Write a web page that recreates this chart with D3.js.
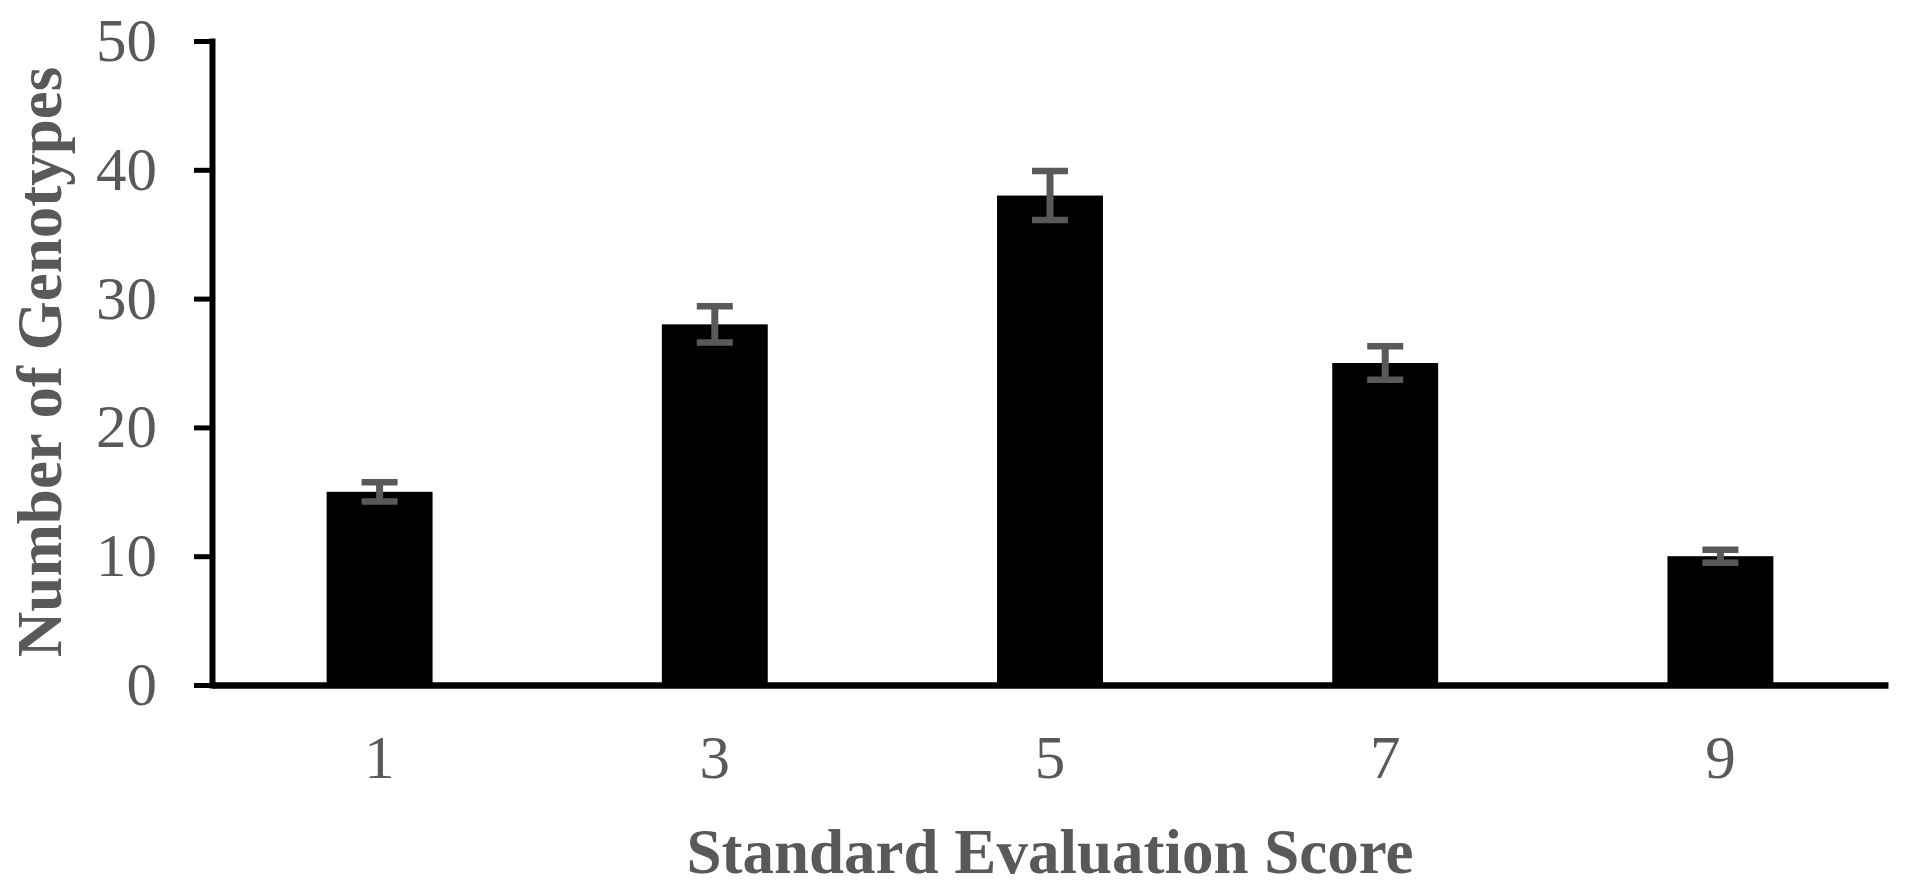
<!DOCTYPE html>
<html>
<head>
<meta charset="utf-8">
<script src="https://cdn.jsdelivr.net/npm/d3@7"></script>
<style>
  html, body { margin: 0; padding: 0; background: #fff; }
  svg { display: block; }
  text { font-family: "Liberation Serif", "Times New Roman", serif; }
</style>
</head>
<body>
<svg id="chart" width="1908" height="890"></svg>
<script>
const categories = ["1", "3", "5", "7", "9"];
const values = [15, 28, 38, 25, 10];
const errors = [0.75, 1.4, 1.9, 1.3, 0.5];
const yTicks = [0, 10, 20, 30, 40, 50];
const xTitle = "Standard Evaluation Score";
const yTitle = "Number of Genotypes";

const svg = d3.select("#chart");
const grey = "#595959";

const x = d3.scaleBand()
  .domain(categories)
  .range([212, 1888])
  .paddingInner(0.684)
  .paddingOuter(0.342);

const y = d3.scaleLinear()
  .domain([0, 50])
  .range([685, 41]);

const data = categories.map((c, i) => ({ c, v: values[i], e: errors[i] }));

// bars
svg.append("g").selectAll("rect")
  .data(data).join("rect")
  .attr("x", d => x(d.c))
  .attr("width", x.bandwidth())
  .attr("y", d => y(d.v))
  .attr("height", d => y(0) - y(d.v))
  .attr("fill", "#000");

// error bars
const eg = svg.append("g").attr("stroke", grey).attr("fill", "none");
const capW = 36;
data.forEach(d => {
  const cx = x(d.c) + x.bandwidth() / 2;
  eg.append("line")
    .attr("x1", cx).attr("x2", cx)
    .attr("y1", y(d.v + d.e)).attr("y2", y(d.v - d.e))
    .attr("stroke-width", 7);
  [d.v + d.e, d.v - d.e].forEach(val => {
    eg.append("line")
      .attr("x1", cx - capW / 2).attr("x2", cx + capW / 2)
      .attr("y1", y(val)).attr("y2", y(val))
      .attr("stroke-width", 6.5);
  });
});

// y axis
const yAxis = svg.append("g")
  .attr("transform", "translate(212,0)")
  .call(d3.axisLeft(y).tickValues(yTicks).tickSize(18).tickSizeOuter(0).tickPadding(37));
yAxis.select(".domain").attr("stroke", "#000").attr("stroke-width", 6).attr("stroke-linecap", "square");
yAxis.selectAll(".tick line").attr("stroke", "#000").attr("stroke-width", 5);
yAxis.selectAll(".tick text")
  .attr("fill", grey)
  .style("font-size", "61px");

// x axis
const xAxis = svg.append("g")
  .attr("transform", "translate(0,685)")
  .call(d3.axisBottom(x).tickSize(0).tickSizeOuter(0).tickPadding(50));
xAxis.select(".domain").attr("stroke", "#000").attr("stroke-width", 6.5);
xAxis.selectAll(".tick text")
  .attr("fill", grey)
  .style("font-size", "61px");

// titles
svg.append("text")
  .attr("x", 1050).attr("y", 873)
  .attr("text-anchor", "middle")
  .attr("fill", grey)
  .style("font-size", "63px")
  .style("font-weight", "bold")
  .text(xTitle);

svg.append("text")
  .attr("transform", "translate(61,362) rotate(-90)")
  .attr("text-anchor", "middle")
  .attr("fill", grey)
  .style("font-size", "63px")
  .style("font-weight", "bold")
  .text(yTitle);
</script>
</body>
</html>
